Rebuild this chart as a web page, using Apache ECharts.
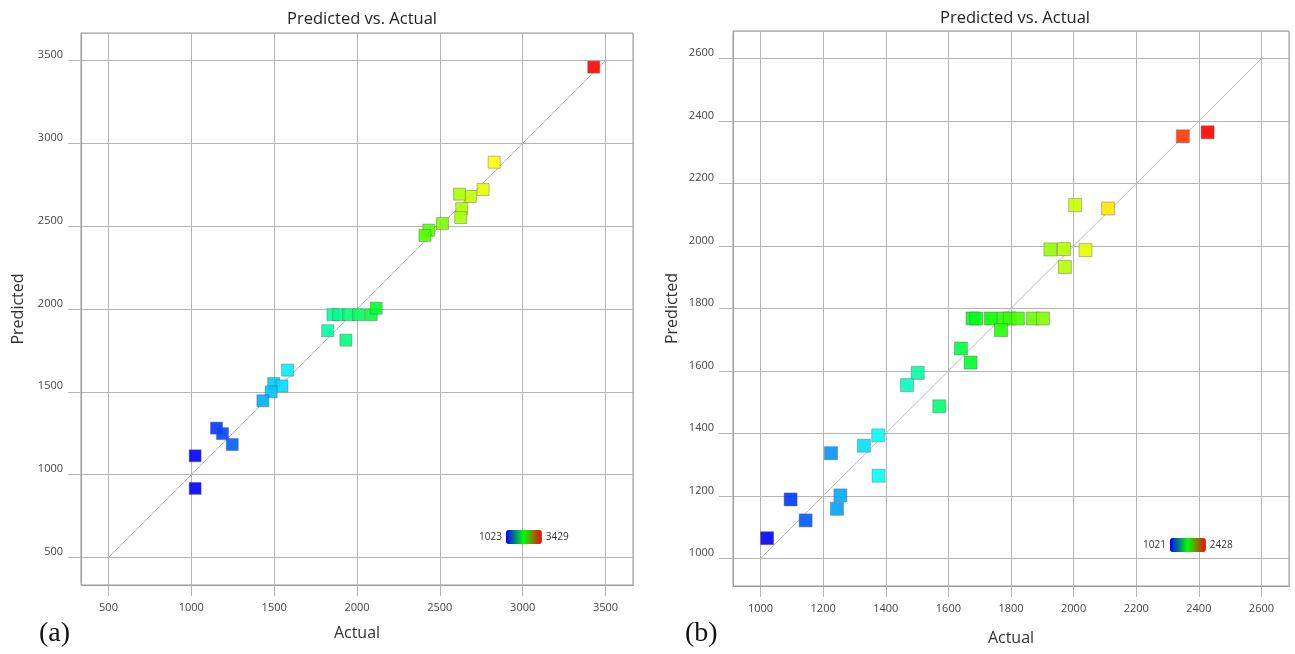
<!DOCTYPE html>
<html>
<head>
<meta charset="utf-8">
<script src="https://cdn.jsdelivr.net/npm/echarts@6/dist/echarts.min.js"></script>
<style>
  html, body { margin: 0; padding: 0; background: #fff; }
  #chart { width: 1295px; height: 654px; }
</style>
</head>
<body>
<div id="chart"></div>
<script>
// (a) actual vs predicted
const actualA = [3429, 2828, 2761, 2684, 2619, 2632, 2626, 2516, 2434, 2410,
  1855, 1890, 1950, 2010, 2086, 2116, 1823, 1933, 1581, 1497,
  1547, 1482, 1432, 1152, 1188, 1247, 1023, 1023]
const predictedA = [3460, 2886, 2721, 2679, 2693, 2606, 2552, 2516, 2476, 2444,
  1966, 1966, 1966, 1966, 1966, 2005, 1869, 1812, 1631, 1550,
  1536, 1500, 1446, 1281, 1248, 1182, 1114, 917]
const ticksA = [500, 1000, 1500, 2000, 2500, 3000, 3500]
const diagA = [500, 3500]
const colorRangeA = [1023, 3429]

// (b) actual vs predicted
const actualB = [2349, 2428, 2005, 2110, 1926, 1969, 2038, 1972,
  1677, 1689, 1736, 1776, 1796, 1822, 1870, 1902,
  1768, 1640, 1671, 1502, 1468, 1571, 1376, 1330, 1225, 1377,
  1255, 1244, 1096, 1144, 1021]
const predictedB = [2351, 2364, 2131, 2120, 1989, 1990, 1987, 1933,
  1768, 1768, 1768, 1768, 1768, 1768, 1768, 1768,
  1731, 1672, 1627, 1594, 1555, 1487, 1394, 1361, 1337, 1265,
  1202, 1159, 1189, 1122, 1065]
const ticksB = [1000, 1200, 1400, 1600, 1800, 2000, 2200, 2400, 2600]
const diagB = [1000, 2600]
const colorRangeB = [1021, 2428]

const rainbow = ['#0000ff', '#00ffff', '#00ff00', '#ffff00', '#ff0000']
const legendRamp = ['#0000ff', '#00ff00', '#ff0000']
const fontFamily = 'Open Sans'
const gridColor = '#b4b4b4'
const frameColor = '#9a9a9a'

const boxA = { left: 81, top: 33, width: 552, height: 552 }
const boxB = { left: 733, top: 31, width: 556, height: 555 }

function pairs(xs, ys) {
  return xs.map((x, i) => [x, ys[i]])
}

function xAxisOf(gridIndex, ticks, pad, step, gap) {
  return {
    type: 'value', gridIndex: gridIndex,
    min: ticks[0] - pad, max: ticks[ticks.length - 1] + pad,
    minInterval: step, maxInterval: step,
    name: 'Actual', nameLocation: 'middle', nameGap: gap,
    nameTextStyle: { fontFamily: fontFamily, fontSize: 16, color: '#333' },
    axisLine: { show: true, lineStyle: { color: frameColor, width: 1 } },
    axisTick: { show: true, length: 11, lineStyle: { color: gridColor, width: 1 } },
    axisLabel: { customValues: ticks, margin: 17, formatter: v => String(v),
      fontFamily: fontFamily, fontSize: 11, color: '#444' },
    splitLine: { show: true, lineStyle: { color: gridColor, width: 1 } }
  }
}

function yAxisOf(gridIndex, ticks, pad, step, tickLen, gap) {
  return {
    type: 'value', gridIndex: gridIndex,
    min: ticks[0] - pad, max: ticks[ticks.length - 1] + pad,
    minInterval: step, maxInterval: step,
    name: 'Predicted', nameLocation: 'middle', nameGap: gap,
    nameTextStyle: { fontFamily: fontFamily, fontSize: 16, color: '#333' },
    axisLine: { show: true, lineStyle: { color: frameColor, width: 1 } },
    axisTick: { show: true, length: tickLen, lineStyle: { color: gridColor, width: 1 } },
    axisLabel: { customValues: ticks, margin: tickLen + 5, verticalAlign: 'bottom', formatter: v => String(v),
      fontFamily: fontFamily, fontSize: 11, color: '#444' },
    splitLine: { show: true, lineStyle: { color: gridColor, width: 1 } }
  }
}

function scatterOf(idx, data, size) {
  return {
    type: 'scatter', xAxisIndex: idx, yAxisIndex: idx,
    symbol: 'rect', symbolSize: size,
    data: data,
    itemStyle: { opacity: 0.9, borderColor: 'rgba(90,90,90,0.45)', borderWidth: 1 },
    z: 3
  }
}

function diagOf(idx, ends) {
  return {
    type: 'line', xAxisIndex: idx, yAxisIndex: idx,
    data: ends.map(v => [v, v]),
    symbol: 'none', silent: true,
    lineStyle: { color: '#b8b8b8', width: 1 },
    z: 2
  }
}

function legendOf(seriesIndex, range, left, top) {
  return {
    type: 'continuous', seriesIndex: seriesIndex, dimension: 0,
    min: range[0], max: range[1],
    orient: 'horizontal', left: left, top: top,
    itemWidth: 14, itemHeight: 36, calculable: false,
    text: [String(range[1]), String(range[0])], textGap: 4,
    textStyle: { fontFamily: fontFamily, fontSize: 10, color: '#333' },
    inRange: { color: rainbow },
    controller: { inRange: { color: legendRamp } }
  }
}

// the padded axis ends get ticks too; the original has none at the frame corners
function cornerMasks(b) {
  const r = b.left + b.width, btm = b.top + b.height
  const white = { fill: '#fff' }
  return [
    { type: 'rect', z: 100, shape: { x: b.left - 22, y: b.top - 2, width: 21.4, height: 4 }, style: white },
    { type: 'rect', z: 100, shape: { x: b.left - 22, y: btm - 2, width: 21.4, height: 4 }, style: white },
    { type: 'rect', z: 100, shape: { x: b.left - 2, y: btm + 1, width: 4, height: 14 }, style: white },
    { type: 'rect', z: 100, shape: { x: r - 2, y: btm + 1, width: 4, height: 14 }, style: white }
  ]
}

const chart = echarts.init(document.getElementById('chart'))
chart.setOption({
  animation: false,
  title: [
    { text: 'Predicted vs. Actual', left: 357, top: 6, textAlign: 'center',
      textStyle: { fontFamily: fontFamily, fontSize: 16.5, fontWeight: 'normal', color: '#222' } },
    { text: 'Predicted vs. Actual', left: 1010, top: 5, textAlign: 'center',
      textStyle: { fontFamily: fontFamily, fontSize: 16.5, fontWeight: 'normal', color: '#222' } }
  ],
  grid: [
    Object.assign({ show: true, borderColor: frameColor, borderWidth: 1 }, boxA),
    Object.assign({ show: true, borderColor: frameColor, borderWidth: 1 }, boxB)
  ],
  xAxis: [
    xAxisOf(0, ticksA, 166, 500, 40),
    xAxisOf(1, ticksB, 88, 200, 44)
  ],
  yAxis: [
    yAxisOf(0, ticksA, 166, 500, 13, 55),
    yAxisOf(1, ticksB, 88, 200, 14, 53)
  ],
  visualMap: [
    legendOf(2, colorRangeA, 464, 515),
    legendOf(3, colorRangeB, 1128, 523)
  ],
  series: [
    diagOf(0, diagA),
    diagOf(1, diagB),
    scatterOf(0, pairs(actualA, predictedA), 12),
    scatterOf(1, pairs(actualB, predictedB), 13)
  ],
  graphic: cornerMasks(boxA).concat(cornerMasks(boxB), [
    { type: 'text', left: 39, top: 620,
      style: { text: '(a)', font: '28px "Liberation Serif"', fill: '#111' } },
    { type: 'text', left: 685, top: 620,
      style: { text: '(b)', font: '28px "Liberation Serif"', fill: '#111' } }
  ])
})
</script>
</body>
</html>
